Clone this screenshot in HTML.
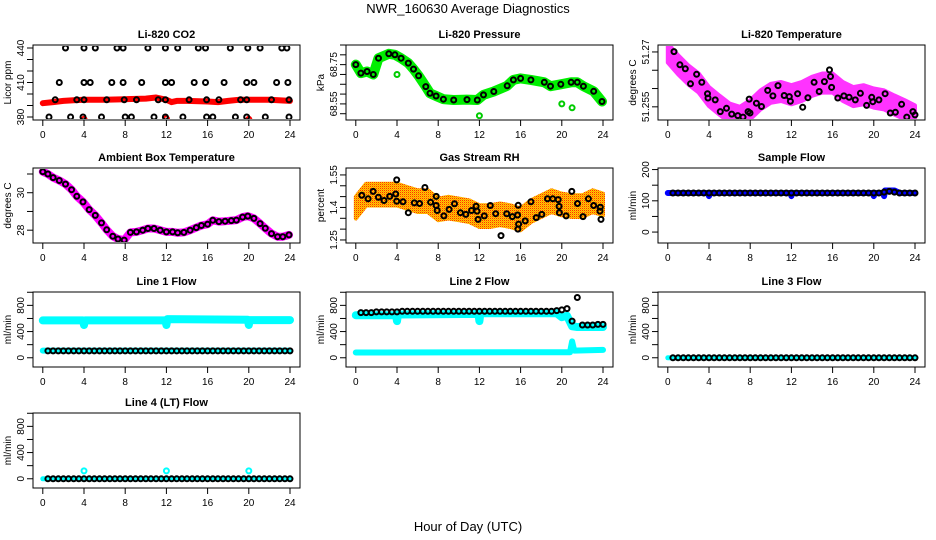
<!DOCTYPE html>
<html><head><meta charset="utf-8">
<style>
html,body{margin:0;padding:0;background:#fff;}
svg{display:block;font-family:"Liberation Sans",Arial,sans-serif;}
</style></head>
<body>
<svg id="chart" width="936" height="540" viewBox="0 0 936 540" xmlns="http://www.w3.org/2000/svg">
<defs>
<pattern id="rhpat" width="2" height="2" patternUnits="userSpaceOnUse">
<rect width="2" height="2" fill="#ffcc00"/><rect width="1" height="1" fill="#ff3000"/><rect x="1" y="1" width="1" height="1" fill="#ff9900"/>
</pattern>
</defs>
<text x="468" y="13" text-anchor="middle" font-size="13">NWR_160630  Average Diagnostics</text>
<text x="468" y="531" text-anchor="middle" font-size="13">Hour of Day (UTC)</text>
</svg>
<script>
// ---- data ----
const xTicks = [0,4,8,12,16,20,24];
const halfHours = [0.5,1,1.5,2,2.5,3,3.5,4,4.5,5,5.5,6,6.5,7,7.5,8,8.5,9,9.5,10,10.5,11,11.5,12,12.5,13,13.5,14,14.5,15,15.5,16,16.5,17,17.5,18,18.5,19,19.5,20,20.5,21,21.5,22,22.5,23,23.5,24];

// CO2
const co2BandHours = [0,1,2,3,4,6,8,10,11,12,12.5,13,14,16,17,18,19,20,22,24];
const co2BandValues = [392,393,394,394.5,395,395,395.5,396,397,395,393,394,394,393.5,393,394,395,395,395,394];
const co2BlackHours = [2.2,4.0,5.1,7.2,7.8,10.2,11.9,13.1,15.1,15.8,18.2,19.9,21.1,23.2,23.7,
 1.6,4.0,4.6,6.7,7.8,9.6,11.9,12.5,14.7,15.8,17.6,19.8,20.5,22.7,23.8,
 1.2,3.3,4.0,6.2,7.9,9.1,11.2,11.9,14.2,15.9,17.1,19.2,19.8,22.2,23.9,
 0.6,2.7,3.9,5.7,8.0,8.6,10.8,11.9,13.6,15.9,16.5,18.7,19.8,21.6,23.9];
const co2BlackValues = [440,440,440,440,440,440,440,440,440,440,440,440,440,440,440,
 410,410,410,410,410,410,410,410,410,410,410,410,410,410,410,
 395,395,395,395,395,395,395,395,395,395,395,395,395,395,395,
 380,380,380,380,380,380,380,380,380,380,380,380,380,380,380];
const co2OutlierHours = [4,12,20];
const co2OutlierValues = [378,378.5,378];

// Pressure
const presHours = [0,0.5,1.1,1.7,2.2,3.2,3.8,4.4,5.1,5.6,6.1,6.8,7.2,7.8,8.5,9.5,10.8,11.8,12.4,13.4,14.7,15.3,16.0,17.0,18.3,18.9,19.9,20.9,21.5,22.1,23.1,23.9];
const presValues = [68.75,68.707,68.715,68.70,68.783,68.805,68.80,68.783,68.758,68.727,68.693,68.638,68.604,68.59,68.574,68.57,68.572,68.57,68.596,68.613,68.642,68.672,68.68,68.672,68.66,68.64,68.65,68.66,68.66,68.64,68.614,68.562];
const presOutHours = [4.0,12.0,20.0,21.0];
const presOutValues = [68.70,68.49,68.55,68.53];

// Li-820 temperature
const tempBandHours = [0,1,2,3,4,5,6,7,8,9,10,11,12,13,14,15,16,17,18,19,20,21,22,23,24];
const tempBandValues = [51.2697,51.2665,51.2637,51.2615,51.2578,51.2555,51.2533,51.2524,51.2542,51.2569,51.2587,51.2592,51.2583,51.2592,51.2606,51.2615,51.2615,51.2592,51.2578,51.2583,51.2574,51.2569,51.2555,51.2542,51.2528];
const tempBlackHours = [0.6,1.17,1.7,2.2,2.8,3.3,3.85,3.9,4.6,5.1,5.7,6.2,6.8,7.3,7.8,7.98,7.9,8.6,9.1,9.7,10.2,10.7,11.3,11.8,11.9,12.6,13.1,13.6,14.2,14.7,15.2,15.7,15.8,15.9,16.5,17.1,17.6,18.2,18.7,19.3,19.8,19.9,20.5,21.1,21.6,22.1,22.7,23.2,23.8,24.0];
const tempBlackValues = [51.2701,51.2665,51.2654,51.2613,51.2639,51.2617,51.2586,51.2574,51.2569,51.2537,51.2546,51.2530,51.2526,51.2522,51.2537,51.2533,51.2571,51.2560,51.2551,51.2595,51.2580,51.2608,51.2581,51.2578,51.2565,51.2586,51.2549,51.2575,51.2617,51.2592,51.2619,51.2651,51.2633,51.2603,51.2574,51.2580,51.2576,51.2569,51.2587,51.2554,51.2576,51.2564,51.2569,51.2586,51.2533,51.2535,51.2557,51.2522,51.2537,51.2528];

// Ambient box temperature
const ambHours = [0,0.5,1,1.6,2.2,2.8,3.3,3.9,4.5,5.1,5.7,6.2,6.8,7.3,7.9,8.5,9.1,9.7,10.2,10.8,11.4,12,12.6,13.1,13.7,14.3,14.9,15.4,16,16.5,17.1,17.7,18.3,18.8,19.4,19.9,20.5,21.1,21.6,22.2,22.8,23.3,23.9];
const ambValues = [31.12,31.0,30.81,30.65,30.46,30.16,29.81,29.51,29.1,28.79,28.39,28.02,27.68,27.53,27.47,27.88,27.91,28.0,28.09,28.09,28.0,27.91,27.91,27.86,27.88,28.0,28.14,28.25,28.32,28.53,28.46,28.48,28.51,28.54,28.7,28.75,28.63,28.35,28.1,27.82,27.65,27.65,27.75];

// Gas stream RH
const rhBandHours = [0,1,2,3,4,5,6,7,8,9,10,11,12,13,14,15,16,17,18,19,20,21,22,23,24];
const rhBandValues = [1.399,1.459,1.459,1.459,1.459,1.444,1.429,1.429,1.391,1.399,1.391,1.383,1.36,1.36,1.368,1.36,1.345,1.383,1.406,1.429,1.414,1.406,1.406,1.429,1.414];
const rhBlackHours = [0.58,1.19,1.68,2.19,2.74,3.29,3.87,3.97,3.97,4.58,5.10,5.68,6.19,6.71,7.26,7.81,7.81,7.90,8.55,9.06,9.58,10.16,10.68,11.23,11.68,11.77,11.87,12.48,13.06,13.58,14.10,14.65,15.19,15.71,15.77,15.81,15.74,16.45,17.0,17.52,18.06,18.61,19.13,19.65,19.74,19.77,20.42,20.97,21.52,22.06,22.58,23.10,23.74,23.71,23.81];
const rhBlackValues = [1.456,1.440,1.474,1.447,1.432,1.451,1.462,1.527,1.429,1.426,1.376,1.421,1.418,1.492,1.424,1.451,1.409,1.386,1.361,1.391,1.417,1.376,1.368,1.386,1.406,1.383,1.345,1.361,1.409,1.371,1.270,1.371,1.358,1.365,1.410,1.323,1.300,1.338,1.426,1.353,1.368,1.440,1.440,1.436,1.405,1.376,1.361,1.474,1.418,1.358,1.440,1.409,1.401,1.383,1.345];

// Sample flow
const sampleBandHours = [0,3.9,4,4.1,11.9,12,12.1,19.9,20,20.1,20.9,21,21.1,22,22.5,24];
const sampleBandValues = [125,125,115,125,125,115,125,125,115,125,125,115,133,133,125,125];
const sampleBlackValues = [125,125,125,125,125,125,125,125,125,125,125,125,125,125,125,125,125,125,125,125,125,125,125,125,125,125,125,125,125,125,125,125,125,125,125,125,125,125,125,125,125,128,130,128,125,125,125,125];

// Line 1
const line1UpperHours = [0,3.9,4,4.1,11.9,12,12.1,19.9,20,20.1,24];
const line1UpperValues = [570,570,500,570,570,500,590,580,500,575,575];
const line1LowerHours = [0,24];
const line1LowerValues = [110,110];
const line1BlackValues = [105,105,105,105,105,105,105,105,105,105,105,105,105,105,105,105,105,105,105,105,105,105,105,105,105,105,105,105,105,105,105,105,105,105,105,105,105,105,105,105,105,105,105,105,105,105,105,105];

// Line 2
const line2UpperHours = [0,3.9,4,4.1,11.9,12,12.1,19.5,20,20.5,21,21.5,22,24];
const line2UpperValues = [650,650,560,660,670,560,680,680,620,640,480,470,470,470];
const line2LowerHours = [0,20.8,21,21.2,24];
const line2LowerValues = [80,85,250,110,120];
const line2BlackValues = [690,690,690,700,700,700,700,700,710,710,710,710,710,710,710,710,710,710,710,710,710,710,710,710,710,710,710,710,710,710,710,710,710,710,710,710,710,710,720,730,750,560,920,500,500,500,510,510];

// Line 3
const line3BandHours = [0,24];
const line3BandValues = [0,0];
const line3BlackValues = [0,0,0,0,0,0,0,0,0,0,0,0,0,0,0,0,0,0,0,0,0,0,0,0,0,0,0,0,0,0,0,0,0,0,0,0,0,0,0,0,0,0,0,0,0,0,0,0];

// Line 4
const line4BandHours = [0,24];
const line4BandValues = [0,0];
const line4OutHours = [4,12,20];
const line4OutValues = [120,120,120];
const line4BlackValues = [0,0,0,0,0,0,0,0,0,0,0,0,0,0,0,0,0,0,0,0,0,0,0,0,0,0,0,0,0,0,0,0,0,0,0,0,0,0,0,0,0,0,0,0,0,0,0,0];

// ---- drawing ----
const NS = 'http://www.w3.org/2000/svg';
const svg = document.getElementById('chart');
function mk(tag, attrs, parent){
  const e = document.createElementNS(NS, tag);
  for (const k in attrs) e.setAttribute(k, attrs[k]);
  (parent||svg).appendChild(e);
  return e;
}
const colLeft = [33,346,658];
const rowTop = [45,168,292,413];
const W = 267, H = 75;

function makePanel(col,row,title,ylab,ylim,yticks,ylabels,slug){
  const L = colLeft[col], T = rowTop[row];
  const g = mk('g',{});
  
  
  const xs = h => L + 9.8 + h*10.3;
  const ys = v => T + H - (v-ylim[0])/(ylim[1]-ylim[0])*H;
  const frame = mk('rect',{x:L,y:T,width:W,height:H,fill:'none',stroke:'#000','stroke-width':1},g);
  
  
  const t = mk('text',{x:L+W/2,y:T-7,'text-anchor':'middle','font-size':11,'font-weight':'bold'},g);
  t.textContent = title;
  
  
  const yt = mk('text',{x:0,y:0,'text-anchor':'middle','font-size':10,transform:`translate(${L-22},${T+H/2}) rotate(-90)`},g);
  yt.textContent = ylab;
  
  
  const xa = mk('g',{},g);
  
  
  xTicks.forEach(h=>{
    mk('line',{x1:xs(h),x2:xs(h),y1:T+H,y2:T+H+6,stroke:'#000'},xa);
    const tl = mk('text',{x:xs(h),y:T+H+18,'text-anchor':'middle','font-size':10},xa);
    tl.textContent = h;
    
    
  });
  const ya = mk('g',{},g);
  
  
  yticks.forEach(v=>{
    mk('line',{x1:L-6,x2:L,y1:ys(v),y2:ys(v),stroke:'#000'},ya);
  });
  ylabels.forEach(v=>{
    const tl = mk('text',{x:0,y:0,'text-anchor':'middle','font-size':10,transform:`translate(${L-9},${ys(v)}) rotate(-90)`},ya);
    tl.textContent = v;
    
    
  });
  const clipId = 'clip-'+slug;
  const cp = mk('clipPath',{id:clipId},g);
  mk('rect',{x:L+1,y:T+1,width:W-2,height:H-2},cp);
  const data = mk('g',{'clip-path':`url(#${clipId})`},g);
  
  
  return {xs,ys,g:data};
}
function band(p,hours,vals,color,width,name){
  const pts = hours.map((h,i)=>p.xs(h).toFixed(1)+','+p.ys(vals[i]).toFixed(1)).join(' ');
  const pl = mk('polyline',{points:pts,fill:'none',stroke:color,'stroke-width':width,'stroke-linejoin':'round','stroke-linecap':'round'},p.g);
  
  
}
function areaBand(p,hours,vals,half,fill,name){
  const up = hours.map((h,i)=>p.xs(h).toFixed(1)+','+p.ys(vals[i]+half).toFixed(1));
  const dn = hours.map((h,i)=>p.xs(h).toFixed(1)+','+p.ys(vals[i]-half).toFixed(1)).reverse();
  const pg = mk('polygon',{points:up.concat(dn).join(' '),fill:fill,stroke:fill,'stroke-width':4,'stroke-linejoin':'round'},p.g);
  
  
}
function points(p,hours,vals,color,name,r,sw){
  hours.forEach((h,i)=>{
    const c = mk('circle',{cx:p.xs(h).toFixed(1),cy:p.ys(vals[i]).toFixed(1),r:r||2.5,fill:'none',stroke:color,'stroke-width':sw||2},p.g);
    
    
  });
}

// Panel 1: CO2
let p = makePanel(0,0,'Li-820 CO2','Licor ppm',[377.4,442.6],[380,390,400,410,420,430,440],[380,410,440],'co2');
band(p,co2BandHours,co2BandValues,'#ff0000',6,'co2-raw-band');
points(p,co2OutlierHours,co2OutlierValues,'#ff0000','co2-raw-outlier');
points(p,co2BlackHours,co2BlackValues,'#000','co2-average-point');

// Panel 2: Pressure
p = makePanel(1,0,'Li-820 Pressure','kPa',[68.468,68.85],[68.50,68.55,68.60,68.65,68.70,68.75,68.80,68.85],[68.55,68.75],'pressure');
band(p,presHours,presValues,'#00ee00',10,'pressure-raw-band');
points(p,presOutHours,presOutValues,'#00cc00','pressure-raw-outlier');
points(p,presHours,presValues,'#000','pressure-average-point');

// Panel 3: Li-820 temperature
p = makePanel(2,0,'Li-820 Temperature','degrees C',[51.2514,51.2719],[51.255,51.260,51.265,51.270],[51.255,51.270],'licor-temp');
areaBand(p,tempBandHours,tempBandValues,0.0026,'#ff33ff','licor-temp-raw-band');
points(p,tempBlackHours,tempBlackValues,'#000','licor-temp-average-point');

// Panel 4: Ambient
p = makePanel(0,1,'Ambient Box Temperature','degrees C',[27.316,31.32],[28,29,30,31],[28,30],'ambient-temp');
band(p,ambHours,ambValues,'#ff00ff',8,'ambient-temp-raw-band');
points(p,ambHours,ambValues,'#000','ambient-temp-average-point');

// Panel 5: RH
p = makePanel(1,1,'Gas Stream RH','percent',[1.236,1.582],[1.25,1.30,1.35,1.40,1.45,1.50,1.55],[1.25,1.40,1.55],'rh');
areaBand(p,rhBandHours,rhBandValues,0.05,'url(#rhpat)','rh-raw-band');
points(p,rhBlackHours,rhBlackValues,'#000','rh-average-point');

// Panel 6: Sample flow
p = makePanel(2,1,'Sample Flow','ml/min',[-35,205],[0,50,100,150,200],[0,100,200],'sample-flow');
band(p,sampleBandHours,sampleBandValues,'#0000ff',6,'sample-flow-raw-band');
points(p,halfHours,sampleBlackValues,'#000','sample-flow-average-point');

// Panel 7: Line 1
p = makePanel(0,2,'Line 1 Flow','ml/min',[-141,1004],[0,200,400,600,800,1000],[0,400,800],'line1-flow');
band(p,line1UpperHours,line1UpperValues,'#00ffff',8,'line1-raw-band-upper');
band(p,line1LowerHours,line1LowerValues,'#00ffff',6,'line1-raw-band-lower');
points(p,halfHours,line1BlackValues,'#000','line1-average-point');

// Panel 8: Line 2
p = makePanel(1,2,'Line 2 Flow','ml/min',[-141,1004],[0,200,400,600,800,1000],[0,400,800],'line2-flow');
band(p,line2UpperHours,line2UpperValues,'#00ffff',8,'line2-raw-band-upper');
band(p,line2LowerHours,line2LowerValues,'#00ffff',6,'line2-raw-band-lower');
points(p,halfHours,line2BlackValues,'#000','line2-average-point');

// Panel 9: Line 3
p = makePanel(2,2,'Line 3 Flow','ml/min',[-141,1004],[0,200,400,600,800,1000],[0,400,800],'line3-flow');
band(p,line3BandHours,line3BandValues,'#00ffff',5,'line3-raw-band');
points(p,halfHours,line3BlackValues,'#000','line3-average-point');

// Panel 10: Line 4
p = makePanel(0,3,'Line 4 (LT) Flow','ml/min',[-141,1004],[0,200,400,600,800,1000],[0,400,800],'line4-flow');
band(p,line4BandHours,line4BandValues,'#00ffff',5,'line4-raw-band');
points(p,line4OutHours,line4OutValues,'#00ffff','line4-raw-outlier');
points(p,halfHours,line4BlackValues,'#000','line4-average-point');
</script>
</body></html>
